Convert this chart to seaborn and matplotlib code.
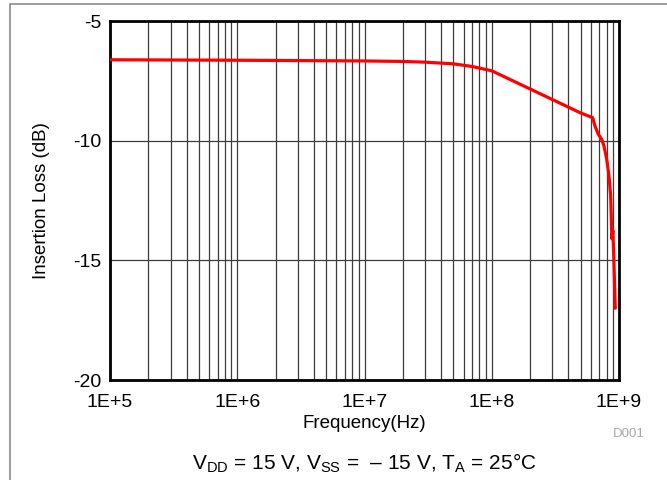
import matplotlib
matplotlib.use("Agg")
import matplotlib.pyplot as plt
from matplotlib.patches import Rectangle
from matplotlib.ticker import FixedLocator, FixedFormatter, LogLocator, NullFormatter
import numpy as np
import pandas as pd
import seaborn as sns

# Insertion loss vs. frequency
freq_hz = [1e5, 1e6, 1e7, 2e7, 3e7, 5e7, 7e7, 1e8, 4.94e8, 6.21e8, 6.48e8,
           6.88e8, 7.31e8, 7.62e8, 8.0e8, 8.34e8, 8.60e8, 8.75e8, 8.80e8,
           8.95e8, 9.1e8, 9.35e8]
loss_db = [-6.62, -6.64, -6.67, -6.69, -6.72, -6.79, -6.90, -7.08, -8.83, -9.04, -9.39,
           -9.74, -9.94, -10.22, -10.77, -11.47, -12.3, -13.68, -14.1,
           -13.75, -14.9, -17.0]

x_ticks = [1e5, 1e6, 1e7, 1e8, 1e9]
x_tick_labels = ["1E+5", "1E+6", "1E+7", "1E+8", "1E+9"]
y_ticks = [-20, -15, -10, -5]
y_tick_labels = ["-20", "-15", "-10", "-5"]

sns.set_style("white")
plt.rcParams["font.family"] = ["Liberation Sans", "DejaVu Sans"]
plt.rcParams["text.color"] = "black"
plt.rcParams["axes.labelcolor"] = "black"
plt.rcParams["mathtext.fontset"] = "custom"
plt.rcParams["mathtext.rm"] = "Liberation Sans"
plt.rcParams["mathtext.it"] = "Liberation Sans"

df = pd.DataFrame({"Frequency": freq_hz, "Loss": loss_db})

fig = plt.figure(figsize=(6.67, 4.8), dpi=100)
ax = fig.add_axes([110 / 667, 1 - 380 / 480, 509 / 667, 359 / 480])

ax.set_xscale("log")
sns.lineplot(data=df, x="Frequency", y="Loss", ax=ax, color="#ff0000",
             linewidth=2.3, zorder=3)

ax.set_xlim(1e5, 1e9)
ax.set_ylim(-20, -5)
ax.xaxis.set_major_locator(FixedLocator(x_ticks))
ax.xaxis.set_major_formatter(FixedFormatter(x_tick_labels))
ax.xaxis.set_minor_locator(LogLocator(base=10, subs=np.arange(2, 10)))
ax.xaxis.set_minor_formatter(NullFormatter())
ax.yaxis.set_major_locator(FixedLocator(y_ticks))
ax.yaxis.set_major_formatter(FixedFormatter(y_tick_labels))

ax.grid(which="major", axis="both", color="#3c3c3c", linewidth=0.9)
ax.grid(which="minor", axis="x", color="#3c3c3c", linewidth=0.9)
ax.tick_params(axis="both", which="both", length=0, labelsize=14, colors="black")
ax.tick_params(axis="x", pad=10)
ax.tick_params(axis="y", pad=6)

for s in ax.spines.values():
    s.set_visible(True)
    s.set_color("black")
    s.set_linewidth(2)

ax.set_xlabel("Frequency(Hz)", fontsize=13.5)
ax.set_ylabel("Insertion Loss (dB)", fontsize=13.5)
ax.xaxis.set_label_coords(0.5, -0.12)
ax.xaxis.label.set_va("center")
ax.yaxis.set_label_coords(-0.134, 0.5)
ax.yaxis.label.set_va("center")

fig.text(645 / 667, 1 - 437 / 480, "D001", ha="right", va="baseline",
         fontsize=9.5, color="#a8a8a8")
fig.text(364 / 667, 1 - 470 / 480,
         r"V$_\mathregular{DD}$ = 15 V, V$_\mathregular{SS}$ =  – 15 V, T$_\mathregular{A}$ = 25°C",
         ha="center", va="baseline", fontsize=15)

# page frame (left and top edges visible)
fig.patches.append(Rectangle((9.5 / 667, -0.1), 1.2, 1.1 - 3.5 / 480,
                             transform=fig.transFigure, fill=False,
                             edgecolor="#8a8a8a", linewidth=1.2))

fig.savefig("out.png", dpi=100)
